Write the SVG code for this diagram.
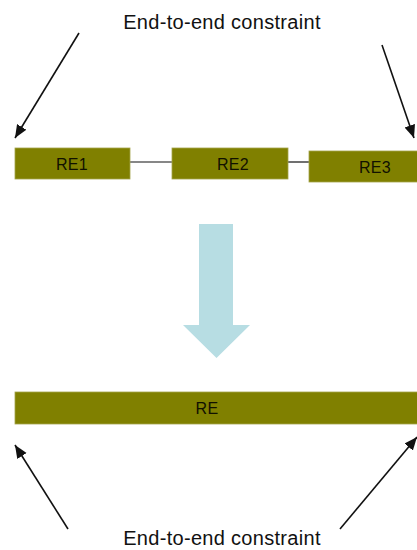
<svg xmlns="http://www.w3.org/2000/svg" width="417" height="550" viewBox="0 0 417 550">
<style>
.box{fill:#808000;stroke:#a3a34a;stroke-width:0.8}
.bt{font-family:"Liberation Sans",Arial,sans-serif;font-size:16px;letter-spacing:0.3px;fill:#111100;text-anchor:middle}
.lbl{font-family:"Liberation Sans",Arial,sans-serif;font-size:20px;letter-spacing:0.3px;fill:#111111;text-anchor:middle}
.arr{stroke:#111111;stroke-width:1.6;fill:none}
.lnk{stroke:#111111;stroke-width:1.2;fill:none}
</style>
<defs>
<marker id="ah" markerUnits="userSpaceOnUse" markerWidth="14" markerHeight="12" refX="13" refY="5.5" orient="auto">
<path d="M0,0 L13,5.5 L0,11 Z" fill="#111111"/>
</marker>
</defs>
<rect width="417" height="550" fill="#ffffff"/>
<text class="lbl" x="222" y="29">End-to-end constraint</text>
<text class="lbl" x="222" y="545">End-to-end constraint</text>
<g id="connectors">
<line class="arr" x1="79" y1="33" x2="15" y2="138" marker-end="url(#ah)"/>
<line class="arr" x1="382" y1="45" x2="414" y2="138" marker-end="url(#ah)"/>
<line class="arr" x1="68" y1="529" x2="15" y2="445" marker-end="url(#ah)"/>
<line class="arr" x1="340" y1="529" x2="417" y2="437" marker-end="url(#ah)"/>
<line class="lnk" x1="130" y1="162" x2="172" y2="162"/>
<line class="lnk" x1="288" y1="162" x2="309" y2="162"/>
</g>
<g id="RE1">
<rect class="box" x="15" y="148" width="115" height="31"/>
<text class="bt" x="72" y="170">RE1</text>
</g>
<g id="RE2">
<rect class="box" x="172" y="148" width="116" height="31"/>
<text class="bt" x="233" y="170">RE2</text>
</g>
<g id="RE3">
<rect class="box" x="309" y="151" width="110" height="31"/>
<text class="bt" x="375" y="173">RE3</text>
</g>
<g id="big-arrow">
<path d="M199,224 L233,224 L233,325 L250,325 L216.5,358 L183,325 L199,325 Z" fill="#b7dde3"/>
</g>
<g id="RE">
<rect class="box" x="15" y="392" width="404" height="32"/>
<text class="bt" x="207" y="414">RE</text>
</g>
</svg>
